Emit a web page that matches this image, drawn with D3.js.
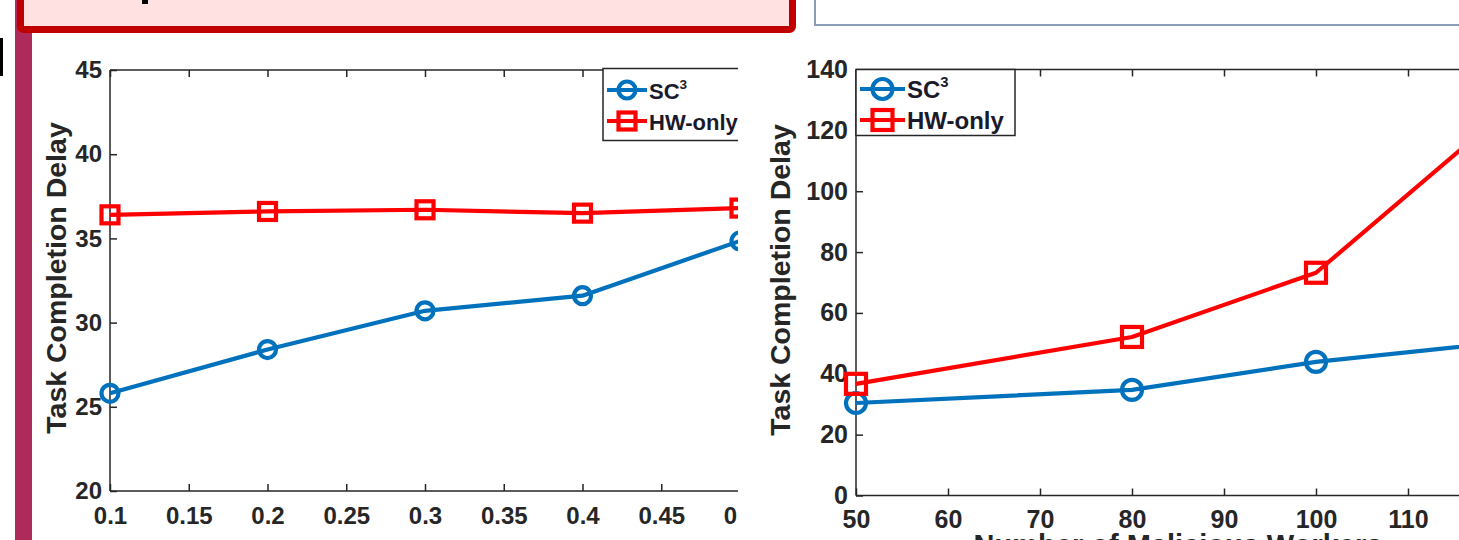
<!DOCTYPE html>
<html><head><meta charset="utf-8">
<script src="https://cdn.jsdelivr.net/npm/d3@7"></script>
<style>
html,body{margin:0;padding:0;background:#fff;}
svg{display:block;}
text{font-family:"Liberation Sans",Arial,Helvetica,sans-serif;font-weight:bold;}
</style></head>
<body>
<svg id="c" width="1459" height="540"></svg>
<script>
// ---- data ----
const leftX = [0.1, 0.2, 0.3, 0.4, 0.5];
const leftSC3 = [25.8, 28.4, 30.7, 31.6, 34.85];
const leftHW = [36.4, 36.6, 36.7, 36.5, 36.8];
const leftXTicks = [0.1, 0.15, 0.2, 0.25, 0.3, 0.35, 0.4, 0.45, 0.5];
const leftYTicks = [20, 25, 30, 35, 40, 45];

const rightX = [50, 80, 100, 120];
const rightSC3 = [30.4, 34.7, 43.9, 50.3];
const rightHW = [36.7, 52.1, 73.2, 124.7];
const rightXTicks = [50, 60, 70, 80, 90, 100, 110, 120];
const rightYTicks = [0, 20, 40, 60, 80, 100, 120, 140];

const seriesNames = ["SC", "HW-only"];
const yLabel = "Task Completion Delay";
const rightXLabel = "Number of Malicious Workers";

const BLUE = "#0072BD", RED = "#FF0000", AX = "#262626";

const svg = d3.select("#c");

// ---- slide decorations ----
svg.append("rect").attr("x", 15).attr("y", 0).attr("width", 17).attr("height", 540).attr("fill", "#ad2a5b");
svg.append("rect").attr("x", 20.5).attr("y", -20).attr("width", 772).attr("height", 49.5)
  .attr("rx", 3).attr("fill", "#ffe1e1").attr("stroke", "#c00000").attr("stroke-width", 7);
svg.append("rect").attr("x", 142).attr("y", 0).attr("width", 6).attr("height", 4).attr("fill", "#000");
svg.append("rect").attr("x", 815).attr("y", -10).attr("width", 700).attr("height", 35)
  .attr("fill", "#fff").attr("stroke", "#8a9cb8").attr("stroke-width", 2);
svg.append("rect").attr("x", 0).attr("y", 38).attr("width", 3).attr("height", 38).attr("fill", "#000");

const defs = svg.append("defs");
defs.append("clipPath").attr("id", "clipL").append("rect").attr("x", 0).attr("y", 40).attr("width", 738).attr("height", 500);

function chart(g, cfg) {
  const x = d3.scaleLinear().domain(cfg.xDom).range(cfg.xRange);
  const y = d3.scaleLinear().domain(cfg.yDom).range(cfg.yRange);
  const [x0, x1] = cfg.xRange, [yb, yt] = cfg.yRange;

  const fs = cfg.fs;
  const ax = g.append("g").attr("transform", `translate(0,${yb})`)
    .call(d3.axisBottom(x).tickValues(cfg.xTicks).tickFormat(d => String(+d.toFixed(2)))
      .tickSizeInner(-7).tickSizeOuter(0).tickPadding(cfg.xPad));
  const ay = g.append("g").attr("transform", `translate(${x0},0)`)
    .call(d3.axisLeft(y).tickValues(cfg.yTicks).tickFormat(d => String(d))
      .tickSizeInner(-7).tickSizeOuter(0).tickPadding(cfg.yPad));
  const at = g.append("g").attr("transform", `translate(0,${yt})`)
    .call(d3.axisTop(x).tickValues(cfg.xTicks).tickFormat("").tickSizeInner(-7).tickSizeOuter(0));
  [ax, ay, at].forEach(a => {
    a.select(".domain").attr("stroke", AX).attr("stroke-width", 1.5);
    a.selectAll(".tick line").attr("stroke", AX).attr("stroke-width", 1.5);
    a.selectAll(".tick text").attr("fill", AX).style("font-size", fs + "px")
      .style("font-family", '"Liberation Sans",Arial,sans-serif').style("font-weight", "bold");
  });
  ax.select(".domain").attr("d", `M${x0},0H${Math.max(x1, 1500)}`);
  at.select(".domain").attr("d", `M${x0},0H${Math.max(x1, 1500)}`);
  ay.select(".domain").attr("d", `M0,${yb}V${yt}`);

  g.append("text").attr("transform", `translate(${cfg.ylx},${cfg.yly}) rotate(-90)`)
    .attr("text-anchor", "middle").attr("fill", AX).style("font-size", cfg.lfs + "px").text(yLabel);

  const line = d3.line().x(d => x(d[0])).y(d => y(d[1]));
  const sets = [
    {vals: cfg.sc3, color: BLUE, m: "circle"},
    {vals: cfg.hw, color: RED, m: "square"}
  ];
  sets.forEach(s => {
    const pts = cfg.xs.map((v, i) => [v, s.vals[i]]);
    g.append("path").datum(pts).attr("d", line).attr("fill", "none")
      .attr("stroke", s.color).attr("stroke-width", 4.2).attr("stroke-linejoin", "round");
    pts.forEach(p => marker(g, s.m, x(p[0]), y(p[1]), s.color, cfg.ms));
  });

  const L = cfg.leg;
  g.append("rect").attr("x", L.x).attr("y", L.y).attr("width", L.w).attr("height", L.h)
    .attr("fill", "#fff").attr("stroke", AX).attr("stroke-width", 1.5);
  sets.forEach((s, i) => {
    const ly = L.rows[i];
    g.append("line").attr("x1", L.lx0).attr("x2", L.lx1).attr("y1", ly).attr("y2", ly)
      .attr("stroke", s.color).attr("stroke-width", 4.2);
    marker(g, s.m, (L.lx0 + L.lx1) / 2, ly, s.color, cfg.ms);
    const t = g.append("text").attr("x", L.tx).attr("y", ly + L.dy).attr("fill", "#1a1a2a")
      .style("font-size", L.fs + "px");
    t.append("tspan").text(seriesNames[i]);
    if (i === 0) t.append("tspan").attr("dy", -L.fs * 0.45).style("font-size", (L.fs * 0.62) + "px").text("3");
  });
  return {x, y};
}

function marker(g, type, cx, cy, color, ms) {
  if (type === "circle") {
    g.append("circle").attr("cx", cx).attr("cy", cy).attr("r", ms.r).attr("fill", "none")
      .attr("stroke", color).attr("stroke-width", 4.2);
  } else {
    g.append("rect").attr("x", cx - ms.s / 2).attr("y", cy - ms.s / 2).attr("width", ms.s).attr("height", ms.s)
      .attr("fill", "none").attr("stroke", color).attr("stroke-width", 4.2);
  }
}

// left chart
const gL = svg.append("g").attr("clip-path", "url(#clipL)");
chart(gL, {
  xDom: [0.1, 0.5], xRange: [110, 740], yDom: [20, 45], yRange: [491, 70],
  xTicks: leftXTicks, yTicks: leftYTicks, xs: leftX, sc3: leftSC3, hw: leftHW,
  fs: 24, xPad: 16, yPad: 8, lfs: 28.5, ylx: 66, yly: 278,
  ms: {r: 8.5, s: 17},
  leg: {x: 603, y: 68.5, w: 160, h: 72, rows: [90, 121], lx0: 607, lx1: 647, tx: 649, dy: 9, fs: 22}
});

// right chart
const gR = svg.append("g");
const rs = chart(gR, {
  xDom: [50, 120], xRange: [856, 1500], yDom: [0, 140], yRange: [495.5, 69.5],
  xTicks: rightXTicks, yTicks: rightYTicks, xs: rightX, sc3: rightSC3, hw: rightHW,
  fs: 25, xPad: 15, yPad: 8, lfs: 28.5, ylx: 790, yly: 280,
  ms: {r: 10, s: 20},
  leg: {x: 856, y: 69.5, w: 159, h: 66, rows: [89, 120], lx0: 860, lx1: 905, tx: 907, dy: 9, fs: 24}
});
gR.append("text").attr("x", (rs.x(50) + rs.x(120)) / 2).attr("y", 555).attr("text-anchor", "middle")
  .attr("fill", AX).style("font-size", "29px").text(rightXLabel);
</script>
</body></html>
